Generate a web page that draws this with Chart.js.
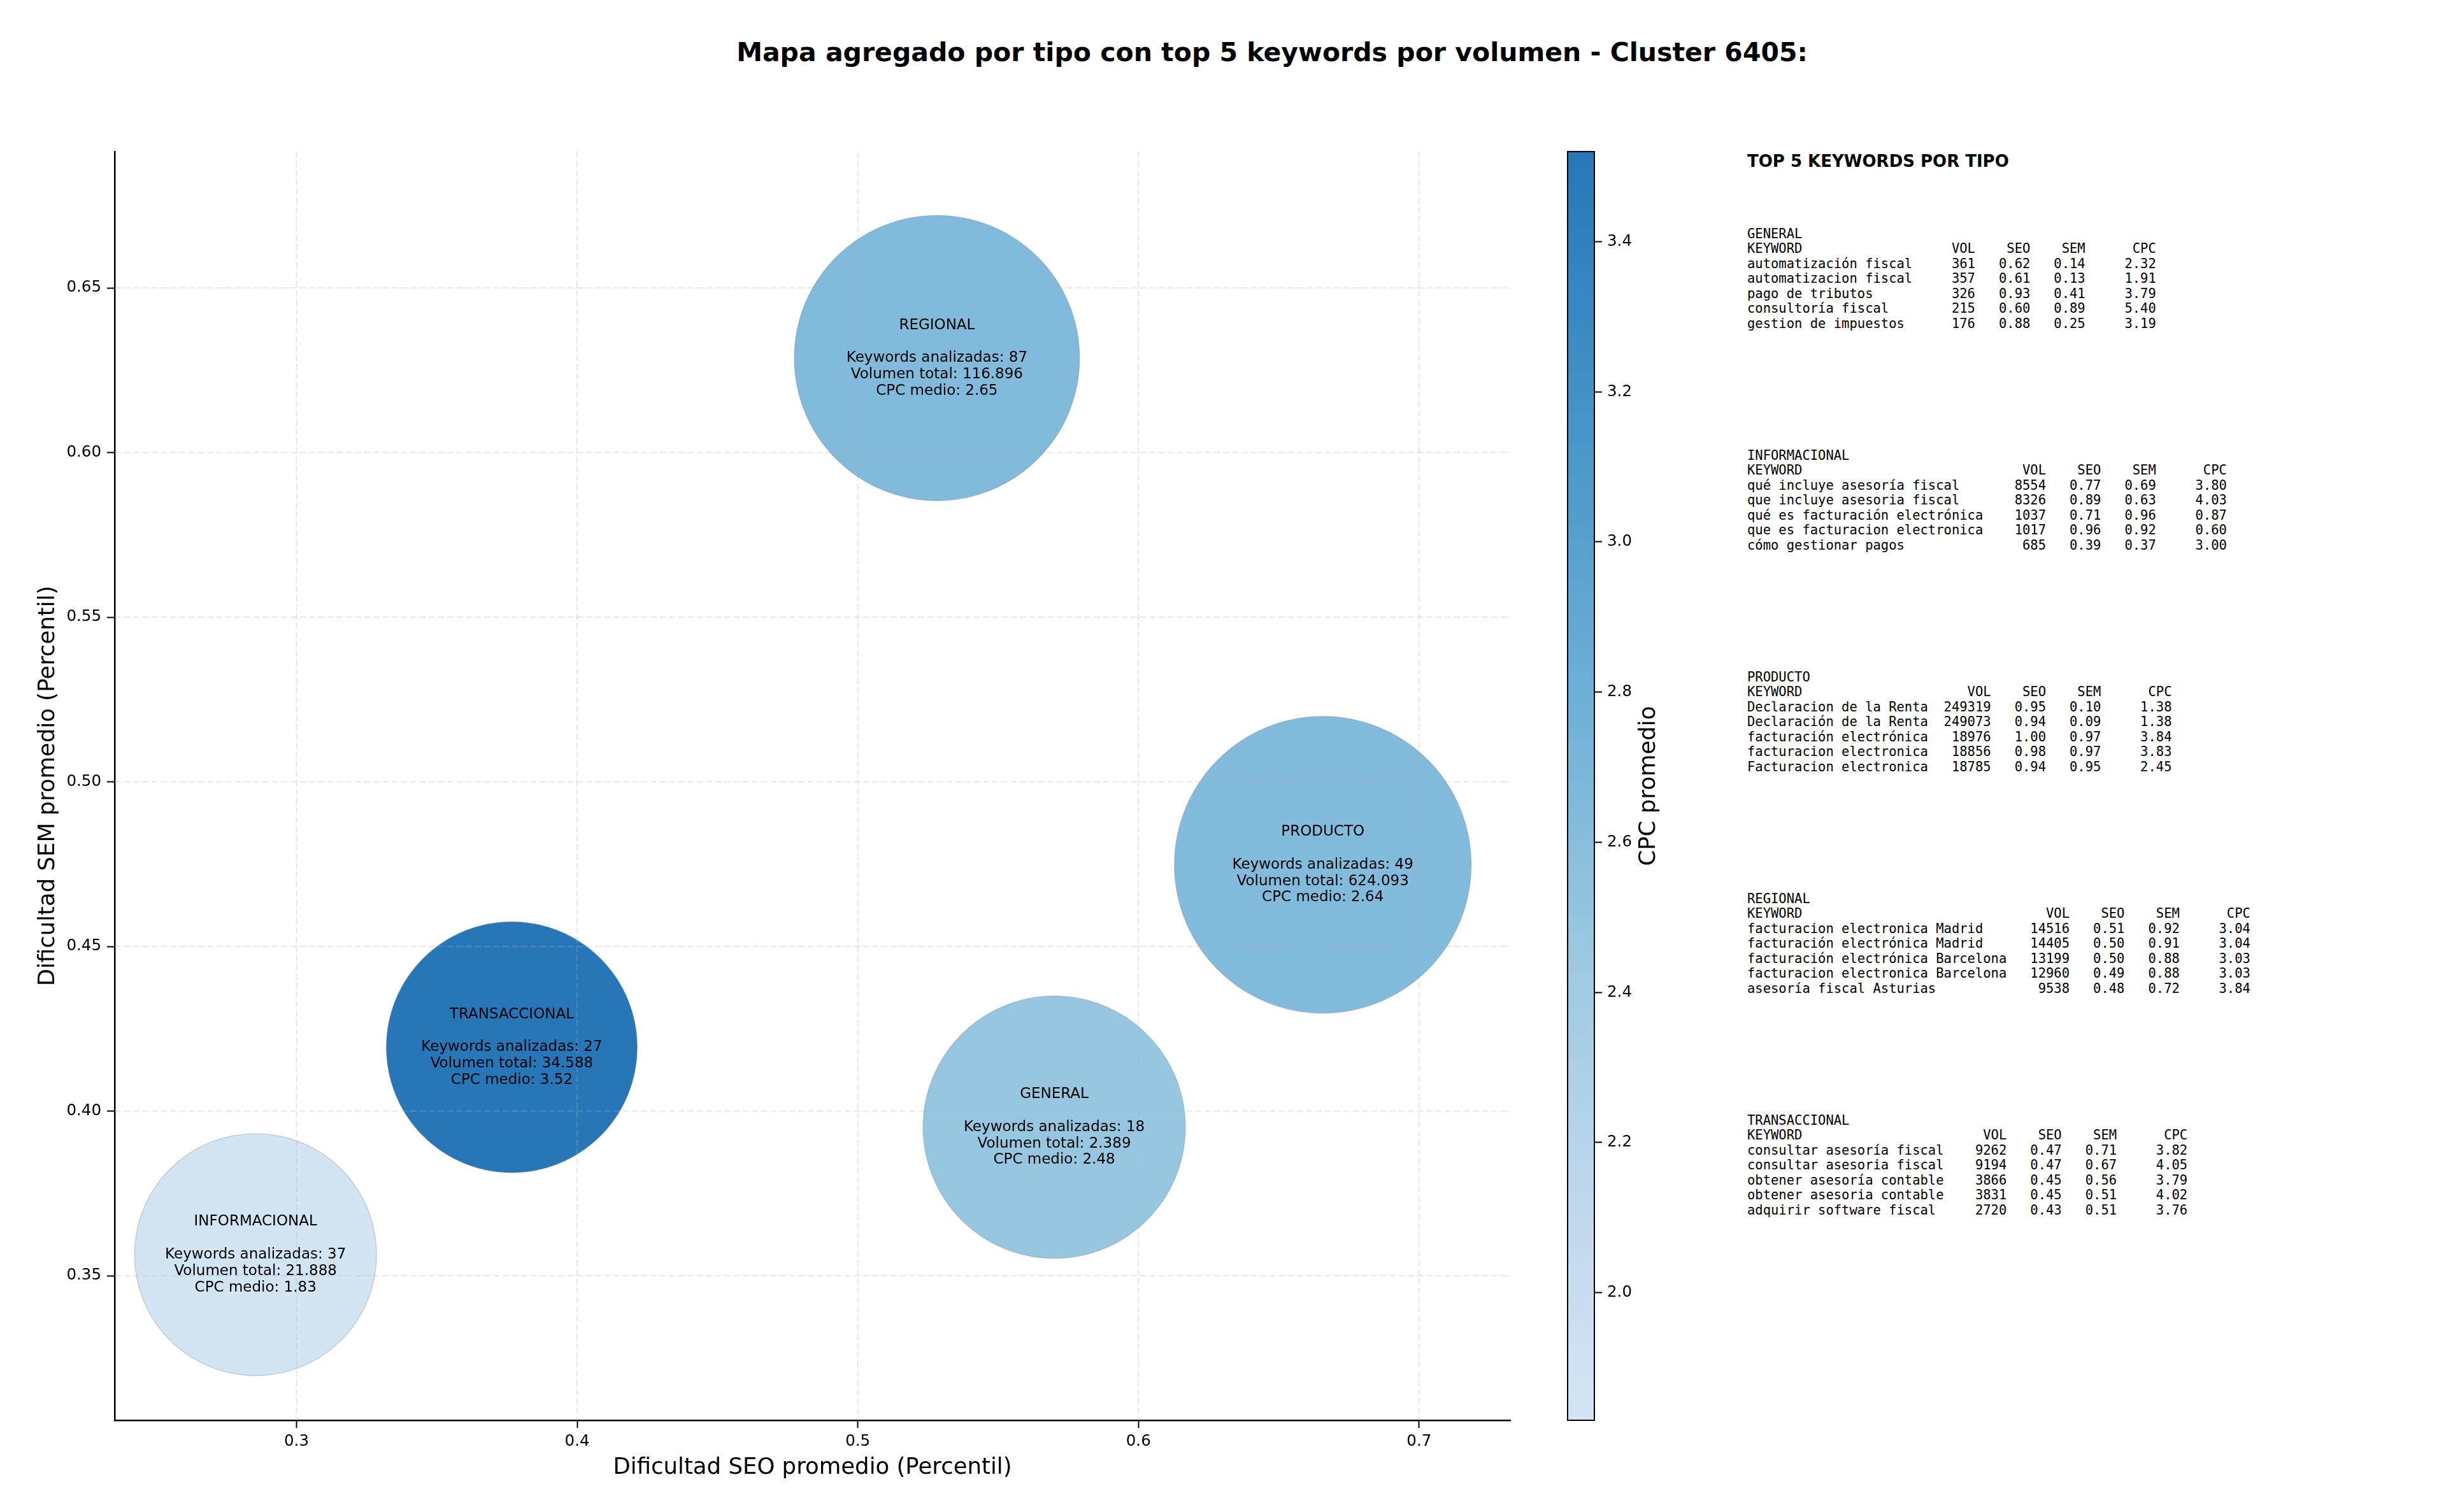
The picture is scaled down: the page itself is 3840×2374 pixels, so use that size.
<!DOCTYPE html>
<html>
<head>
<meta charset="utf-8">
<script src="https://cdn.jsdelivr.net/npm/chart.js@4.4.1/dist/chart.umd.min.js"></script>
<style>
  body { margin:0; background:#fff; }
  #wrap { position:relative; width:3840px; height:2374px; overflow:hidden; }
  canvas { position:absolute; top:0; }
  #title { position:absolute; left:0; width:3994px; top:62px; text-align:center;
           font:bold 41px "DejaVu Sans"; line-height:41px; color:#000; white-space:nowrap; }
  #tables-head { position:absolute; left:2743px; top:240px; font:bold 26px "DejaVu Sans";
                 line-height:26px; color:#000; white-space:nowrap; }
  .kw-block { position:absolute; left:2743px; font:20.5px "DejaVu Sans Mono"; line-height:23.5px;
              color:#000; white-space:pre; margin:0; }
</style>
</head>
<body>
<div id="wrap">
  <div id="title">Mapa agregado por tipo con top 5 keywords por volumen - Cluster 6405:</div>
  <canvas id="mainChart" width="2440" height="2374" style="left:0"></canvas>
  <canvas id="cbarChart" width="240" height="2374" style="left:2400px"></canvas>
  <div id="tables-head">TOP 5 KEYWORDS POR TIPO</div>
  <div id="tables"></div>
</div>
<script>
/* ---------- datos agregados por tipo ---------- */
const tipos      = ['GENERAL', 'INFORMACIONAL', 'PRODUCTO', 'REGIONAL', 'TRANSACCIONAL'];
const seoMedio   = [0.570, 0.2854, 0.6657, 0.5282, 0.3767];
const semMedio   = [0.3951, 0.3564, 0.4748, 0.6287, 0.4194];
const nKeywords  = [18, 37, 49, 87, 27];
const volTotal   = [2389, 21888, 624093, 116896, 34588];
const cpcMedio   = [2.48, 1.83, 2.64, 2.65, 3.52];
const bubbleR    = [206, 190, 233, 224, 197];   // radio

const xTicks  = [0.3, 0.4, 0.5, 0.6, 0.7];
const yTicks  = [0.35, 0.40, 0.45, 0.50, 0.55, 0.60, 0.65];
const cbTicks = [2.0, 2.2, 2.4, 2.6, 2.8, 3.0, 3.2, 3.4];
const xRange  = [0.2352, 0.7325];
const yRange  = [0.3061, 0.6914];
const cbRange = [1.83, 3.52];

/* ---------- top 5 keywords (keyword, vol, seo, sem, cpc) ---------- */
const topGeneral = [
  ['automatización fiscal', 361, 0.62, 0.14, 2.32],
  ['automatizacion fiscal', 357, 0.61, 0.13, 1.91],
  ['pago de tributos',      326, 0.93, 0.41, 3.79],
  ['consultoría fiscal',    215, 0.60, 0.89, 5.40],
  ['gestion de impuestos',  176, 0.88, 0.25, 3.19]
];
const topInformacional = [
  ['qué incluye asesoría fiscal',    8554, 0.77, 0.69, 3.80],
  ['que incluye asesoria fiscal',    8326, 0.89, 0.63, 4.03],
  ['qué es facturación electrónica', 1037, 0.71, 0.96, 0.87],
  ['que es facturacion electronica', 1017, 0.96, 0.92, 0.60],
  ['cómo gestionar pagos',            685, 0.39, 0.37, 3.00]
];
const topProducto = [
  ['Declaracion de la Renta', 249319, 0.95, 0.10, 1.38],
  ['Declaración de la Renta', 249073, 0.94, 0.09, 1.38],
  ['facturación electrónica',  18976, 1.00, 0.97, 3.84],
  ['facturacion electronica',  18856, 0.98, 0.97, 3.83],
  ['Facturacion electronica',  18785, 0.94, 0.95, 2.45]
];
const topRegional = [
  ['facturacion electronica Madrid',    14516, 0.51, 0.92, 3.04],
  ['facturación electrónica Madrid',    14405, 0.50, 0.91, 3.04],
  ['facturación electrónica Barcelona', 13199, 0.50, 0.88, 3.03],
  ['facturacion electronica Barcelona', 12960, 0.49, 0.88, 3.03],
  ['asesoría fiscal Asturias',           9538, 0.48, 0.72, 3.84]
];
const topTransaccional = [
  ['consultar asesoría fiscal', 9262, 0.47, 0.71, 3.82],
  ['consultar asesoria fiscal', 9194, 0.47, 0.67, 4.05],
  ['obtener asesoría contable', 3866, 0.45, 0.56, 3.79],
  ['obtener asesoria contable', 3831, 0.45, 0.51, 4.02],
  ['adquirir software fiscal',  2720, 0.43, 0.51, 3.76]
];
const topPorTipo = [topGeneral, topInformacional, topProducto, topRegional, topTransaccional];

/* ---------- colormap (Blues recortado) ---------- */
const bluesStops = ['#f7fbff','#deebf7','#c6dbef','#9ecae1','#6baed6','#4292c6','#2171b5','#08519c','#08306b'];
const CMAP_LO = 0.18, CMAP_HI = 0.73;
function hexRgb(h){ return [1,3,5].map(i => parseInt(h.substr(i,2),16)); }
function blues(t){
  const p = Math.max(0, Math.min(1, t)) * (bluesStops.length - 1);
  const i = Math.min(Math.floor(p), bluesStops.length - 2), f = p - i;
  const a = hexRgb(bluesStops[i]), b = hexRgb(bluesStops[i+1]);
  const c = a.map((v,k) => Math.round(v + (b[k]-v)*f));
  return `rgb(${c[0]},${c[1]},${c[2]})`;
}
function cpcColor(v){
  const n = (v - cbRange[0]) / (cbRange[1] - cbRange[0]);
  return blues(CMAP_LO + (CMAP_HI - CMAP_LO) * n);
}
const miles = v => String(v).replace(/\B(?=(\d{3})+(?!\d))/g, '.');

Chart.defaults.font.family = '"DejaVu Sans"';
Chart.defaults.color = '#000';

/* ---------- grid discontinuo + textos en burbujas ---------- */
const overlayPlugin = {
  id: 'overlay',
  afterDatasetsDraw(chart){
    const {ctx, chartArea: a, scales: {x, y}} = chart;
    ctx.save();
    ctx.strokeStyle = 'rgba(176,176,176,0.3)';
    ctx.lineWidth = 2;
    ctx.setLineDash([10, 4.5]);
    xTicks.forEach(v => {
      const px = x.getPixelForValue(v);
      ctx.beginPath(); ctx.moveTo(px, a.top); ctx.lineTo(px, a.bottom); ctx.stroke();
    });
    yTicks.forEach(v => {
      const py = y.getPixelForValue(v);
      ctx.beginPath(); ctx.moveTo(a.left, py); ctx.lineTo(a.right, py); ctx.stroke();
    });
    ctx.setLineDash([]);
    ctx.fillStyle = '#000';
    ctx.font = '23px "DejaVu Sans"';
    ctx.textAlign = 'center';
    ctx.textBaseline = 'middle';
    const step = 25.8;
    chart.getDatasetMeta(0).data.forEach((pt, i) => {
      const lines = [tipos[i], '', `Keywords analizadas: ${nKeywords[i]}`,
                     `Volumen total: ${miles(volTotal[i])}`, `CPC medio: ${cpcMedio[i].toFixed(2)}`];
      lines.forEach((t, k) => ctx.fillText(t, pt.x, pt.y + (k - 2) * step));
    });
    ctx.restore();
  }
};

new Chart(document.getElementById('mainChart'), {
  type: 'bubble',
  data: {
    datasets: [{
      data: tipos.map((t, i) => ({x: seoMedio[i], y: semMedio[i], r: bubbleR[i]})),
      backgroundColor: cpcMedio.map(cpcColor),
      borderColor: 'rgba(110,125,145,0.3)',
      borderWidth: 1.5
    }]
  },
  options: {
    responsive: false,
    animation: false,
    devicePixelRatio: 1,
    layout: { autoPadding: false, padding: { top: 238, right: 69, bottom: 0, left: 0 } },
    plugins: { legend: { display: false }, tooltip: { enabled: false } },
    scales: {
      x: {
        type: 'linear', min: xRange[0], max: xRange[1],
        afterBuildTicks: s => { s.ticks = xTicks.map(v => ({value: v})); },
        afterFit: s => { s.height = 144; },
        ticks: { font: {size: 24.5}, color: '#000', padding: 7, callback: v => v.toFixed(1) },
        grid: { drawOnChartArea: false, drawTicks: true, tickLength: 12, tickColor: '#000', tickWidth: 2 },
        border: { display: true, color: '#000', width: 2.5 },
        title: { display: true, text: 'Dificultad SEO promedio (Percentil)', font: {size: 35.5},
                 color: '#000', padding: 48 }
      },
      y: {
        type: 'linear', min: yRange[0], max: yRange[1],
        afterBuildTicks: s => { s.ticks = yTicks.map(v => ({value: v})); },
        afterFit: s => { s.width = 180; },
        ticks: { font: {size: 24.5}, color: '#000', padding: 9, callback: v => v.toFixed(2) },
        grid: { drawOnChartArea: false, drawTicks: true, tickLength: 12, tickColor: '#000', tickWidth: 2 },
        border: { display: true, color: '#000', width: 2.5 },
        title: { display: true, text: 'Dificultad SEM promedio (Percentil)', font: {size: 35.5},
                 color: '#000', padding: 54 }
      }
    }
  },
  plugins: [overlayPlugin]
});

/* ---------- barra de color ---------- */
const cbarPlugin = {
  id: 'cbarDeco',
  afterDraw(chart){
    const {ctx, chartArea: a} = chart;
    ctx.save();
    ctx.strokeStyle = '#000';
    ctx.lineWidth = 2;
    ctx.strokeRect(a.left, a.top, a.right - a.left, a.bottom - a.top);
    ctx.translate(189, (a.top + a.bottom) / 2);
    ctx.rotate(-Math.PI / 2);
    ctx.font = '35.5px "DejaVu Sans"';
    ctx.fillStyle = '#000';
    ctx.textAlign = 'center';
    ctx.textBaseline = 'middle';
    ctx.fillText('CPC promedio', 0, 0);
    ctx.restore();
  }
};

new Chart(document.getElementById('cbarChart'), {
  type: 'bar',
  data: {
    labels: ['cpc'],
    datasets: [{
      data: [[cbRange[0], cbRange[1]]],
      barPercentage: 1, categoryPercentage: 1, borderWidth: 0,
      backgroundColor: (c) => {
        const chart = c.chart;
        if (!chart.chartArea) return cpcColor(cbRange[1]);
        const y = chart.scales.y;
        const g = chart.ctx.createLinearGradient(0, y.getPixelForValue(cbRange[0]), 0, y.getPixelForValue(cbRange[1]));
        for (let k = 0; k <= 40; k++) {
          g.addColorStop(k / 40, cpcColor(cbRange[0] + (cbRange[1] - cbRange[0]) * k / 40));
        }
        return g;
      }
    }]
  },
  options: {
    responsive: false,
    animation: false,
    devicePixelRatio: 1,
    layout: { autoPadding: false, padding: { top: 238, right: 0, bottom: 144, left: 61 } },
    plugins: { legend: { display: false }, tooltip: { enabled: false } },
    scales: {
      x: { display: false },
      y: {
        position: 'right', min: cbRange[0], max: cbRange[1],
        afterBuildTicks: s => { s.ticks = cbTicks.map(v => ({value: v})); },
        afterFit: s => { s.width = 137; },
        ticks: { font: {size: 24.5}, color: '#000', padding: 8, callback: v => v.toFixed(1) },
        grid: { drawOnChartArea: false, drawTicks: true, tickLength: 12, tickColor: '#000', tickWidth: 2 },
        border: { display: true, color: '#000', width: 2 }
      }
    }
  },
  plugins: [cbarPlugin]
});

/* ---------- tablas de texto ---------- */
const tablesEl = document.getElementById('tables');
topPorTipo.forEach((rows, i) => {
  const L = Math.max(...rows.map(r => r[0].length));
  const head = 'KEYWORD'.padEnd(L) + ' ' + 'VOL'.padStart(7) + ' ' + 'SEO'.padStart(6) + ' ' +
               'SEM'.padStart(6) + ' ' + 'CPC'.padStart(8);
  const body = rows.map(r => r[0].padEnd(L) + ' ' + String(r[1]).padStart(7) + ' ' +
               r[2].toFixed(2).padStart(6) + ' ' + r[3].toFixed(2).padStart(6) + ' ' + r[4].toFixed(2).padStart(8));
  const pre = document.createElement('pre');
  pre.className = 'kw-block';
  pre.style.top = (355.5 + 348 * i) + 'px';
  pre.textContent = [tipos[i], head, ...body].join('\n');
  tablesEl.appendChild(pre);
});
</script>
</body>
</html>
